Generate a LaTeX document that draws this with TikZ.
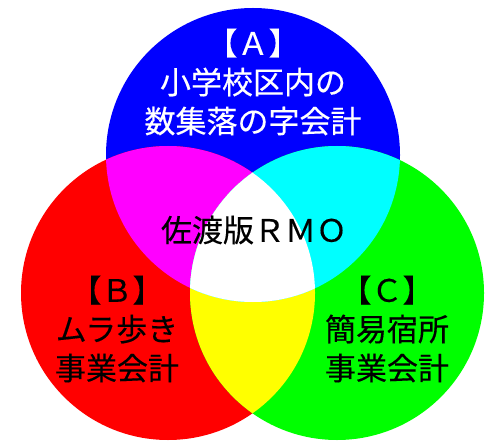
\documentclass[tikz,border=0pt]{standalone}
\usepackage{fontspec}
\newfontfamily\jp[FakeBold=0.3]{Noto Sans CJK JP}
\definecolor{cblue}{RGB}{0,0,255}
\definecolor{cred}{RGB}{255,0,0}
\definecolor{cgreen}{RGB}{0,255,0}
\definecolor{cmag}{RGB}{255,0,255}
\definecolor{ccyan}{RGB}{0,255,255}
\definecolor{cyel}{RGB}{255,255,0}
\tikzset{
  lbl/.style={font=\jp\fontsize{31}{39}\selectfont, align=center, inner sep=0pt},
}
\begin{document}
\begin{tikzpicture}[x=1pt,y=-1pt]
\useasboundingbox[fill=white] (0,0) rectangle (494,443);
\def\R{147}
\coordinate (cb) at (253,155);
\coordinate (cr) at (168,293);
\coordinate (cg) at (337,293);
\fill[cblue] (cb) circle (\R);
\fill[cred] (cr) circle (\R);
\fill[cgreen] (cg) circle (\R);
\begin{scope}
  \clip (cr) circle (\R);
  \fill[cmag] (cb) circle (\R);
  \fill[cyel] (cg) circle (\R);
  \clip (cg) circle (\R);
  \fill[white] (cb) circle (\R);
\end{scope}
\begin{scope}
  \clip (cg) circle (\R);
  \clip (cb) circle (\R);
  \fill[ccyan] (cg) circle (\R);
  \clip (cr) circle (\R);
  \fill[white] (cb) circle (\R);
\end{scope}
\node[lbl, text=white] (a) at (253,82) {【Ａ】\\小学校区内の\\数集落の字会計};
\node[lbl] (m) at (254,230) {佐渡版ＲＭＯ};
\node[lbl] (b) at (117,329) {【Ｂ】\\ムラ歩き\\事業会計};
\node[lbl] (c) at (387,329) {【Ｃ】\\簡易宿所\\事業会計};
\end{tikzpicture}
\end{document}
